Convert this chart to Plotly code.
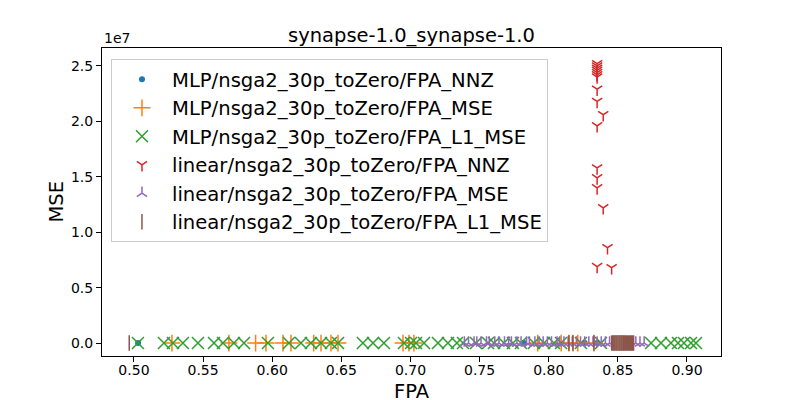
import plotly.graph_objects as go

# values (FPA on x, MSE on y)
mlp_nnz_fpa = [0.503, 0.782, 0.826, 0.835]
mlp_nnz_mse = [0, 0, 0, 0]

mlp_mse_fpa = [0.5275, 0.5687, 0.588, 0.5955, 0.6078, 0.6136, 0.630, 0.6353, 0.6425, 0.6476,
               0.6946, 0.6989, 0.7025, 0.792, 0.809, 0.8146, 0.8175, 0.821, 0.8327]
mlp_mse_mse = [0] * len(mlp_mse_fpa)

mlp_l1_fpa = [0.5029, 0.5217, 0.5282, 0.5354, 0.5463, 0.5579, 0.5644, 0.5723, 0.5796, 0.5969,
              0.6121, 0.6208, 0.6280, 0.6353, 0.6425, 0.6476, 0.6656, 0.6729, 0.6808, 0.6953,
              0.7004, 0.7040, 0.7098, 0.7199, 0.7271, 0.7336, 0.7380, 0.7474, 0.7561, 0.7604,
              0.7676, 0.7741, 0.7799, 0.7893, 0.7966, 0.8038, 0.8089, 0.8233, 0.8378, 0.8740,
              0.8812, 0.8884, 0.8935, 0.8978, 0.9029, 0.9065]
mlp_l1_mse = [0] * len(mlp_l1_fpa)

lin_nnz_fpa = [0.835, 0.835, 0.835, 0.835, 0.835, 0.835, 0.835, 0.835, 0.835, 0.8394,
               0.835, 0.835, 0.835, 0.835, 0.8394, 0.8425, 0.835, 0.8455]
lin_nnz_mse = [25.2e6, 25.0e6, 24.8e6, 24.6e6, 24.4e6, 24.2e6, 24.0e6, 22.9e6, 21.8e6, 20.6e6,
               19.6e6, 15.8e6, 14.9e6, 14.0e6, 12.2e6, 8.6e6, 6.9e6, 6.8e6]

lin_mse_fpa = [0.739, 0.742, 0.746, 0.748, 0.751, 0.755, 0.757, 0.761, 0.764, 0.768,
               0.771, 0.773, 0.777, 0.780, 0.784, 0.786, 0.790, 0.793, 0.796, 0.799,
               0.802, 0.806, 0.808, 0.811, 0.814, 0.817, 0.820, 0.823, 0.826, 0.829,
               0.832, 0.835, 0.838, 0.841, 0.844, 0.863, 0.866, 0.869]
lin_mse_mse = [0] * len(lin_mse_fpa)

lin_l1_fpa = [0.4966, 0.8146, 0.8175, 0.8327, 0.8455, 0.8463, 0.8471, 0.8478, 0.8486, 0.8493,
              0.8501, 0.8509, 0.8516, 0.8524, 0.8531, 0.8539, 0.8546, 0.8554, 0.8561, 0.8569,
              0.8577, 0.8584, 0.8592, 0.8599, 0.8607, 0.8614]
lin_l1_mse = [0] * len(lin_l1_fpa)

y_ticks = [0, 0.5e7, 1.0e7, 1.5e7, 2.0e7, 2.5e7]
y_ticktext = ['0.0', '0.5', '1.0', '1.5', '2.0', '2.5']

FONT = 'DejaVu Sans'

fig = go.Figure()

series = [
    ('MLP/nsga2_30p_toZero/FPA_NNZ', mlp_nnz_fpa, mlp_nnz_mse, '#1f77b4', 'circle', 6),
    ('MLP/nsga2_30p_toZero/FPA_MSE', mlp_mse_fpa, mlp_mse_mse, '#ff7f0e', 'cross-thin', 12),
    ('MLP/nsga2_30p_toZero/FPA_L1_MSE', mlp_l1_fpa, mlp_l1_mse, '#2ca02c', 'x-thin', 12),
    ('linear/nsga2_30p_toZero/FPA_NNZ', lin_nnz_fpa, lin_nnz_mse, '#d62728', 'y-down', 8.5),
    ('linear/nsga2_30p_toZero/FPA_MSE', lin_mse_fpa, lin_mse_mse, '#9467bd', 'y-up', 8.5),
    ('linear/nsga2_30p_toZero/FPA_L1_MSE', lin_l1_fpa, lin_l1_mse, '#8c564b', 'line-ns', 11),
]

for name, xs, ys, col, sym, sz in series:
    if sym == 'circle':
        mk = dict(symbol=sym, size=sz, color=col)
    else:
        mk = dict(symbol=sym, size=sz, color=col, line=dict(color=col, width=1.5))
    fig.add_trace(go.Scatter(x=xs, y=ys, mode='markers', name=name, marker=mk,
                             legendgroup=name))

# page seems to sit 7-8px down/right, so margins are shifted to compensate
fig.update_layout(
    width=800, height=400,
    margin=dict(l=94, r=87, t=40, b=52, autoexpand=False),
    paper_bgcolor='white', plot_bgcolor='white',
    font=dict(family=FONT, size=14, color='black'),
    title=dict(text='synapse-1.0_synapse-1.0', x=0.5, xref='paper', xanchor='center',
               y=1, yref='paper', yanchor='bottom', pad=dict(b=6),
               font=dict(family=FONT, size=19.5, color='black')),
    showlegend=True,
    legend=dict(x=0.0145, y=0.964, xanchor='left', yanchor='top',
                bgcolor='rgba(255,255,255,0.8)', bordercolor='#cccccc', borderwidth=1,
                font=dict(family=FONT, size=19.6), tracegroupgap=0, itemwidth=50),
)

fig.update_xaxes(range=[0.4769, 0.9246], tickvals=[0.50, 0.55, 0.60, 0.65, 0.70, 0.75, 0.80, 0.85, 0.90],
                 tickformat='.2f', ticks='outside', ticklen=5, tickwidth=1, tickcolor='black',
                 showgrid=False, zeroline=False, showline=True, linecolor='black', linewidth=1,
                 mirror=True, tickfont=dict(size=14), automargin=False, ticklabelstandoff=-4)
fig.update_yaxes(range=[-1.17e6, 2.662e7], tickvals=y_ticks, ticktext=y_ticktext,
                 ticks='outside', ticklen=5, tickwidth=1, tickcolor='black',
                 showgrid=False, zeroline=False, showline=True, linecolor='black', linewidth=1,
                 mirror=True, tickfont=dict(size=14), automargin=False)

fig.add_annotation(text='1e7', xref='paper', yref='paper', x=0, y=1, xanchor='left',
                   yanchor='bottom', showarrow=False, font=dict(size=14), yshift=0)
fig.add_annotation(text='FPA', xref='paper', yref='paper', x=0.5, y=-0.116, xanchor='center',
                   yanchor='middle', showarrow=False, font=dict(size=19.5))
fig.add_annotation(text='MSE', xref='paper', yref='paper', x=-0.0751, y=0.5, xanchor='center',
                   yanchor='middle', showarrow=False, textangle=-90, font=dict(size=19.5))

fig.write_html("out.html")
